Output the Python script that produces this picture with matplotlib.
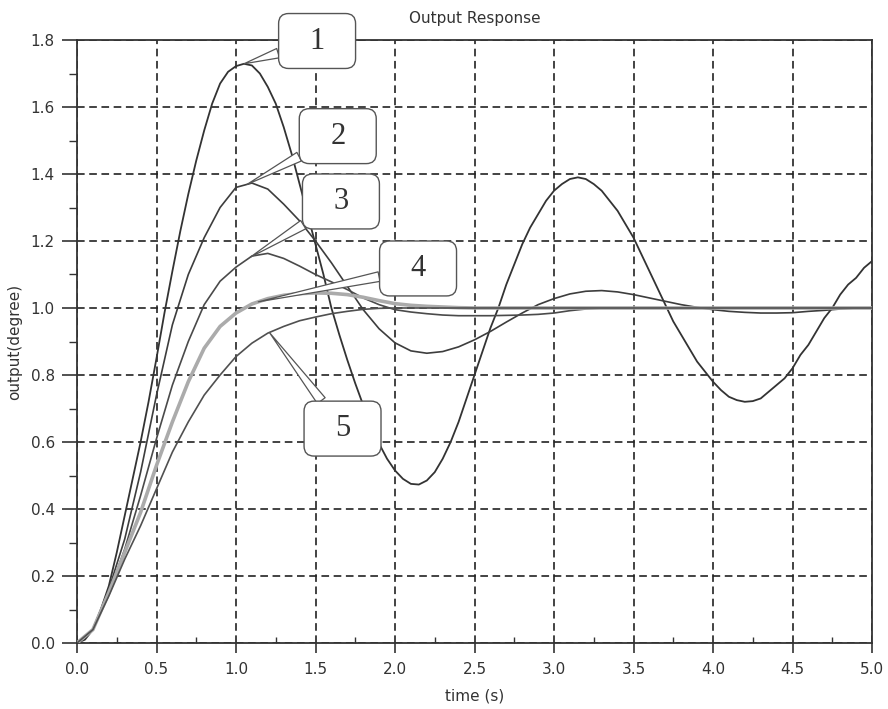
import numpy as np
import matplotlib
matplotlib.use("Agg")
import matplotlib.pyplot as plt
from matplotlib.patches import FancyBboxPatch
from matplotlib.ticker import MultipleLocator, FormatStrFormatter

t_fine = np.round(np.arange(0, 5.0001, 0.05), 2)
t = np.round(np.arange(0, 5.0001, 0.1), 1)

# Переходные характеристики
y1 = [0.00, 0.01, 0.04, 0.10, 0.17, 0.27, 0.38, 0.49, 0.60, 0.72,
      0.85, 0.985, 1.11, 1.23, 1.34, 1.44, 1.53, 1.61, 1.67, 1.705,
      1.722, 1.729, 1.724, 1.70, 1.66, 1.61, 1.54, 1.46, 1.37, 1.28,
      1.19, 1.10, 1.00, 0.92, 0.845, 0.775, 0.71, 0.65, 0.595, 0.55,
      0.515, 0.49, 0.475, 0.473, 0.485, 0.51, 0.55, 0.60, 0.66, 0.73,
      0.80, 0.87, 0.94, 1.00, 1.07, 1.13, 1.19, 1.24, 1.28, 1.32,
      1.35, 1.37, 1.385, 1.39, 1.385, 1.37, 1.35, 1.32, 1.29, 1.25,
      1.21, 1.16, 1.11, 1.06, 1.01, 0.96, 0.92, 0.88, 0.84, 0.81,
      0.78, 0.755, 0.735, 0.725, 0.72, 0.722, 0.73, 0.75, 0.77, 0.79,
      0.82, 0.86, 0.89, 0.93, 0.97, 1.00, 1.04, 1.07, 1.09, 1.12,
      1.14]
y2 = [0.00, 0.04, 0.16, 0.31, 0.51, 0.74, 0.95, 1.10, 1.21, 1.30,
      1.36, 1.373, 1.355, 1.31, 1.26, 1.20, 1.135, 1.065, 0.995, 0.938,
      0.896, 0.872, 0.865, 0.870, 0.884, 0.905, 0.93, 0.958, 0.985, 1.01,
      1.028, 1.042, 1.05, 1.052, 1.048, 1.04, 1.03, 1.02, 1.01, 1.002,
      0.995, 0.99, 0.987, 0.985, 0.985, 0.986, 0.99, 0.993, 0.997, 1.0,
      1.0]
y3 = [0.00, 0.04, 0.15, 0.28, 0.44, 0.61, 0.77, 0.90, 1.01, 1.08,
      1.122, 1.155, 1.163, 1.148, 1.125, 1.10, 1.078, 1.055, 1.03, 1.01,
      0.995, 0.988, 0.983, 0.979, 0.977, 0.977, 0.977, 0.978, 0.979, 0.981,
      0.985, 0.992, 0.997, 1.0, 1.0, 1.0, 1.0, 1.0, 1.0, 1.0,
      1.0, 1.0, 1.0, 1.0, 1.0, 1.0, 1.0, 1.0, 1.0, 1.0,
      1.0]
y4 = [0.00, 0.04, 0.15, 0.27, 0.39, 0.53, 0.66, 0.78, 0.88, 0.945,
      0.985, 1.012, 1.028, 1.038, 1.043, 1.045, 1.044, 1.04, 1.032, 1.022,
      1.013, 1.008, 1.005, 1.003, 1.001, 1.0, 1.0, 1.0, 1.0, 1.0,
      1.0, 1.0, 1.0, 1.0, 1.0, 1.0, 1.0, 1.0, 1.0, 1.0,
      1.0, 1.0, 1.0, 1.0, 1.0, 1.0, 1.0, 1.0, 1.0, 1.0,
      1.0]
y5 = [0.00, 0.04, 0.14, 0.25, 0.35, 0.46, 0.57, 0.66, 0.74, 0.80,
      0.855, 0.895, 0.925, 0.945, 0.962, 0.973, 0.983, 0.99, 0.996, 0.999,
      1.0, 1.0, 1.0, 1.0, 1.0, 1.0, 1.0, 1.0, 1.0, 1.0,
      1.0, 1.0, 1.0, 1.0, 1.0, 1.0, 1.0, 1.0, 1.0, 1.0,
      1.0, 1.0, 1.0, 1.0, 1.0, 1.0, 1.0, 1.0, 1.0, 1.0,
      1.0]

labels = ["1", "2", "3", "4", "5"]
# выноски: момент времени, на который указывает стрелка, и центр рамки
tip_t = [1.05, 1.07, 1.09, 1.14, 1.21]
box_xy = [(1.51, 1.797), (1.64, 1.513), (1.66, 1.318), (2.145, 1.118), (1.67, 0.64)]

plt.rcParams['lines.scale_dashes'] = False
fig = plt.figure(figsize=(8.88, 7.09), dpi=100)
ax = fig.add_axes([77 / 888, 66 / 709, 795 / 888, 603 / 709])

times = [t_fine, t, t, t, t]
curves = [y1, y2, y3, y4, y5]
colors = ['#333333', '#3d3d3d', '#4a4a4a', '#ababab', '#505050']
widths = [1.3, 1.2, 1.2, 2.6, 1.2]
for tt, yy, c, w in zip(times, curves, colors, widths):
    ax.plot(tt, yy, color=c, lw=w, zorder=3)

ax.set_xlim(0, 5)
ax.set_ylim(0, 1.8)
ax.xaxis.set_major_locator(MultipleLocator(0.5))
ax.xaxis.set_minor_locator(MultipleLocator(0.25))
ax.yaxis.set_major_locator(MultipleLocator(0.2))
ax.yaxis.set_minor_locator(MultipleLocator(0.1))
ax.xaxis.set_major_formatter(FormatStrFormatter('%.1f'))
ax.yaxis.set_major_formatter(FormatStrFormatter('%.1f'))
ax.tick_params(axis='x', which='major', direction='out', length=7, width=1.2, pad=7)
ax.tick_params(axis='x', which='minor', direction='in', length=4, width=1)
ax.tick_params(axis='y', which='major', direction='out', length=11, width=1.2, pad=5)
ax.tick_params(axis='y', which='minor', direction='out', length=6, width=1)
ax.tick_params(which='both', colors='#333333', labelsize=11)

ax.grid(True, which='major', color='#222222', lw=1.2, linestyle=(0, (5.5, 3.3)))
ax.set_axisbelow(True)
for s in ax.spines.values():
    s.set_color('#333333')
    s.set_linewidth(1.3)

ax.set_title('Output Response', fontsize=11, color='#333333', pad=12)
ax.set_xlabel('time (s)', fontsize=11, color='#333333', labelpad=8)
ax.set_ylabel('output(degree)', fontsize=11, color='#333333', labelpad=6)

# рамки-выноски с номерами кривых
bw, bh = 0.484, 0.164
aspect = (795 / 5) / (603 / 1.8)
for i, lab in enumerate(labels):
    tx = tip_t[i]
    ty = np.interp(tx, times[i], curves[i])
    cx, cy = box_xy[i]
    box = FancyBboxPatch((cx - bw / 2, cy - bh / 2), bw, bh,
                         boxstyle="round,pad=0,rounding_size=0.063",
                         mutation_aspect=aspect, fc='white', ec='#555555',
                         lw=1.0, zorder=5, clip_on=False)
    ax.add_patch(box)
    ax.annotate("", xy=(tx, ty), xytext=(cx, cy), zorder=4, annotation_clip=False,
                arrowprops=dict(arrowstyle="wedge,tail_width=0.35,shrink_factor=0.5",
                                patchA=box, shrinkA=0, shrinkB=0, fc='white',
                                ec='#555555', lw=0.9, mutation_scale=20))
    ax.text(cx, cy, lab, ha='center', va='center', fontsize=22,
            family='Liberation Serif', color='#333333', zorder=6, clip_on=False)

fig.savefig('out.png', dpi=100)
